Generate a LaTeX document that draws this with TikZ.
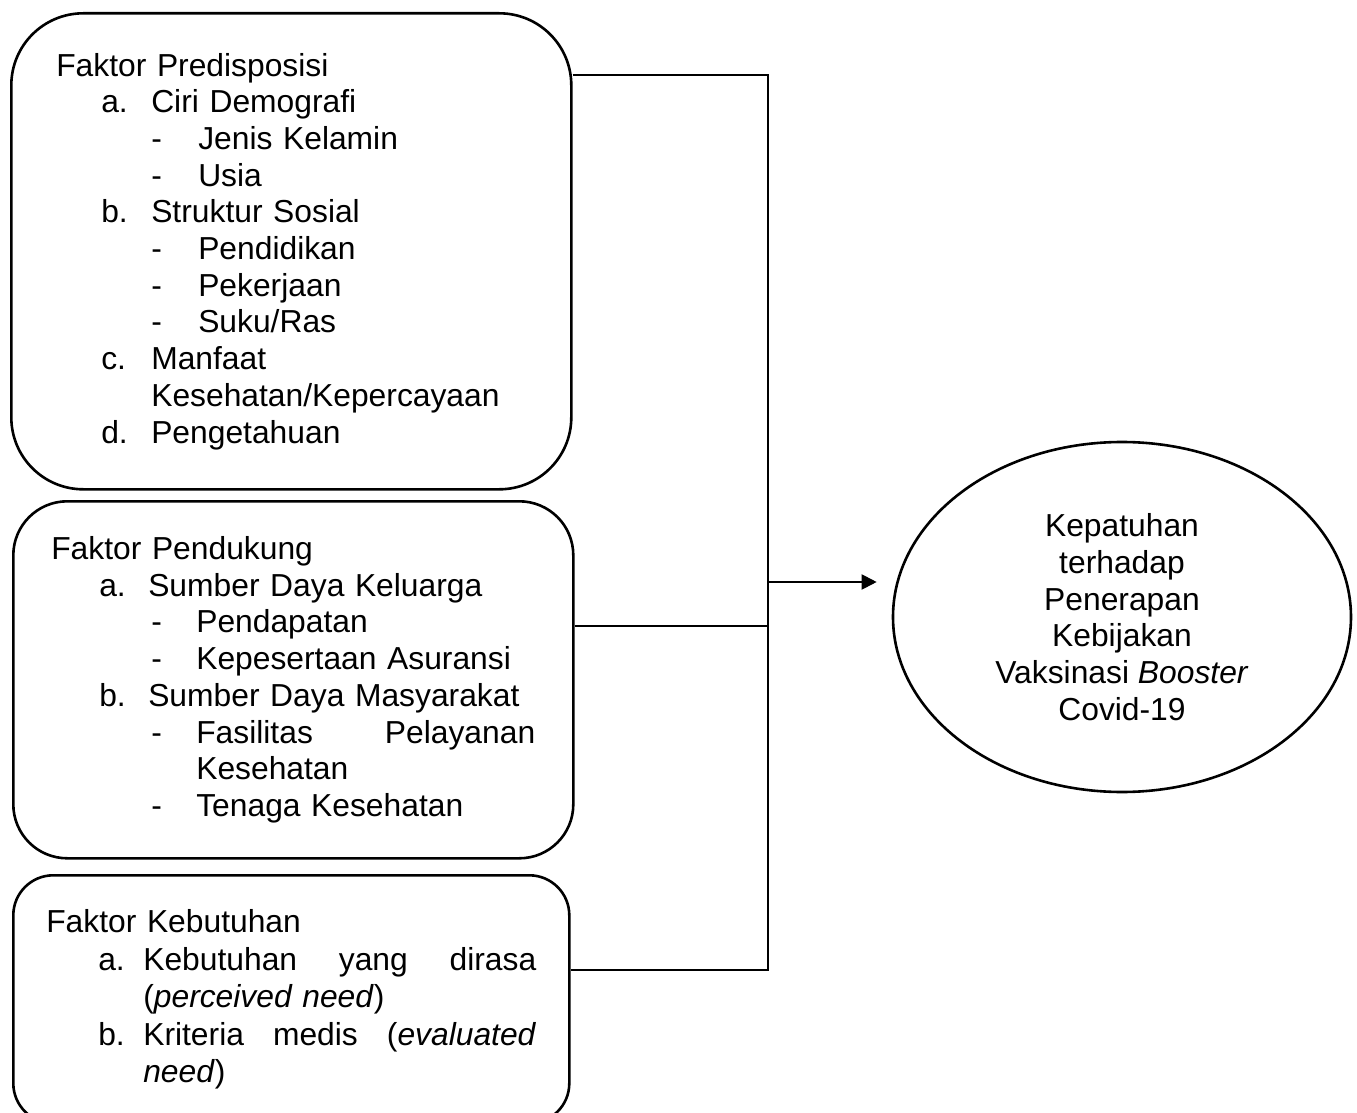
\documentclass[tikz,border=0pt]{standalone}
\usepackage{fontspec}
\setmainfont{Liberation Sans}
\usetikzlibrary{arrows.meta,shapes.geometric,positioning}
\newcommand{\butir}[3]{\hspace*{#1}\makebox[#2][l]{#3}}
\tikzset{
  faktorbox/.style={draw, line width=1.3pt, rounded corners=#1, anchor=north west,
    align=left, inner ysep=0pt, font=\fontsize{15.9}{18.35}\selectfont},
  faktorbox/.default=20pt,
  hasilnode/.style={draw, ellipse, line width=1.3pt, align=center, inner sep=0pt,
    minimum width=229pt, minimum height=175pt, font=\fontsize{15.9}{18.35}\selectfont},
  link/.style={line width=1pt},
  arr/.style={link, -{Triangle[length=7.5pt, width=7.5pt]}}
}
\begin{document}
\begin{tikzpicture}[x=0.5pt, y=-0.5pt]
  \useasboundingbox (0,0) rectangle (1357,1113);
  % faktor boxes
  \node[faktorbox=36pt, text width=235pt, inner xsep=22.5pt, minimum height=238pt] (pred) at (10,12) {%
    Faktor Predisposisi\\
    \butir{22.5pt}{25pt}{a.}Ciri Demografi\\
    \butir{47.5pt}{23.5pt}{-}Jenis Kelamin\\
    \butir{47.5pt}{23.5pt}{-}Usia\\
    \butir{22.5pt}{25pt}{b.}Struktur Sosial\\
    \butir{47.5pt}{23.5pt}{-}Pendidikan\\
    \butir{47.5pt}{23.5pt}{-}Pekerjaan\\
    \butir{47.5pt}{23.5pt}{-}Suku/Ras\\
    \butir{22.5pt}{25pt}{c.}Manfaat\\
    \hspace*{47.5pt}Kesehatan/Kepercayaan\\
    \butir{22.5pt}{25pt}{d.}Pengetahuan};
  \node[faktorbox=27pt, text width=242pt, inner xsep=19pt, minimum height=178.5pt] (pend) at (12,500) {%
    Faktor Pendukung\\
    \butir{24pt}{24.5pt}{a.}Sumber Daya Keluarga\\
    \butir{50pt}{22.5pt}{-}Pendapatan\\
    \butir{50pt}{22.5pt}{-}Kepesertaan Asuransi\\
    \butir{24pt}{24.5pt}{b.}Sumber Daya Masyarakat\\
    \butir{50pt}{22.5pt}{-}Fasilitas\hfill Pelayanan\\
    \hspace*{72.5pt}Kesehatan\\
    \butir{50pt}{22.5pt}{-}Tenaga Kesehatan};
  \node[faktorbox=20pt, text width=245pt, inner xsep=16.5pt, minimum height=124pt,
    font=\fontsize{15.9}{18.75}\selectfont] (kebut) at (12,874) {%
    Faktor Kebutuhan\\
    \butir{26pt}{22.5pt}{a.}Kebutuhan\hfill yang\hfill dirasa\\
    \hspace*{48.5pt}(\textit{perceived need})\\
    \butir{26pt}{22.5pt}{b.}Kriteria\hfill medis\hfill (\textit{evaluated}\\
    \hspace*{48.5pt}\textit{need})};
  % hasil
  \node[hasilnode] (kep) at (1122,617) {Kepatuhan\\terhadap\\Penerapan\\Kebijakan\\Vaksinasi \textit{Booster}\\Covid-19};
  % connectors
  \coordinate (jtop) at (768,75);
  \coordinate (jmid) at (768,582);
  \coordinate (jpend) at (768,626);
  \coordinate (jbot) at (768,970);
  \draw[link] (pred.east |- jtop) -- (jtop) -- (jbot) -- (kebut.east |- jbot);
  \draw[link] (pend.east |- jpend) -- (jpend);
  \draw[arr, shorten >=7.5pt] (jmid) -- (kep.west |- jmid);
\end{tikzpicture}
\end{document}
